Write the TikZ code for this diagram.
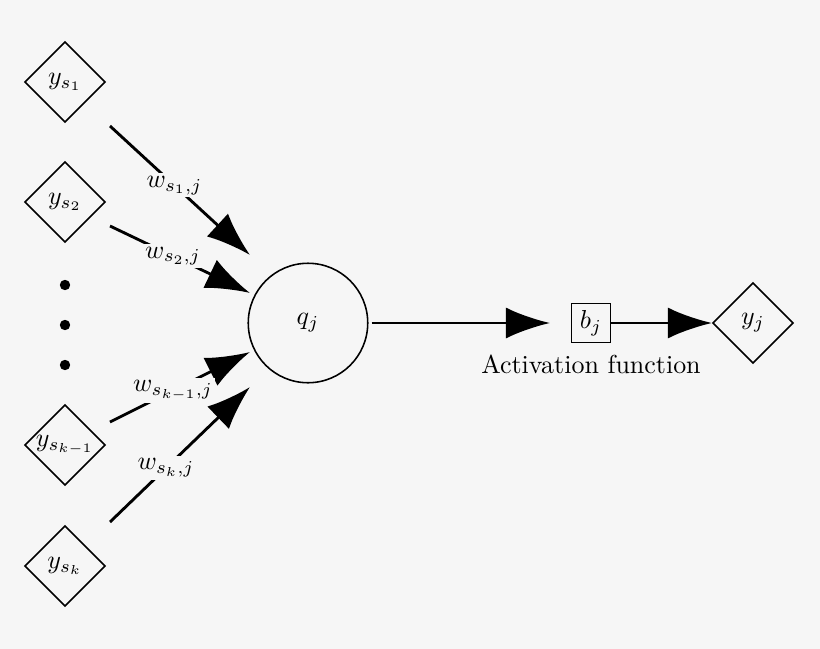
\documentclass[tikz,border=0pt]{standalone}
\usetikzlibrary{shapes.geometric,arrows.meta}
\begin{document}
\begin{tikzpicture}[x=0.385pt,y=-0.385pt,
  dia/.style={draw,line width=0.6pt,shape=diamond,minimum size=31pt,inner sep=0pt},
  conn/.style={line width=1.1pt,-{Latex[length=17pt,width=12pt]}},
  wlab/.style={fill=bgc,inner sep=1pt}]
\definecolor{bgc}{HTML}{F6F6F6}
\fill[bgc] (0,0) rectangle (820,649);
\useasboundingbox (0,0) rectangle (820,649);
\node[dia] (y1) at (65,82) {$y_{s_1}$};
\node[dia] (y2) at (65,202) {$y_{s_2}$};
\node[dia] (y3) at (65,445) {$y_{s_{k-1}}$};
\node[dia] (y4) at (65,566) {$y_{s_k}$};
\foreach \i/\yy in {1/285,2/325,3/365}{\fill (65,\yy) circle (2pt) coordinate (d\i);}
\node[draw,line width=0.6pt,circle,minimum size=46pt] (q) at (308,323) {$q_j$};
\node[draw,line width=0.6pt,minimum size=15pt,inner sep=1pt] (b) at (591,323) {$b_j$};
\node[dia] (yj) at (753,323) {$y_j$};
\node (act) at (591,364) {Activation function};
\coordinate (s1) at (110,126); \coordinate (e1) at (250,255);
\coordinate (s2) at (110,226); \coordinate (e2) at (250,293);
\coordinate (s3) at (110,422); \coordinate (e3) at (250,352);
\coordinate (s4) at (110,522); \coordinate (e4) at (250,387);
\draw[conn] (s1) -- (e1) node[pos=0.46,wlab] (w1) {$w_{s_1,j}$};
\draw[conn] (s2) -- (e2) node[pos=0.45,wlab] (w2) {$w_{s_2,j}$};
\draw[conn] (s3) -- (e3) node[pos=0.45,wlab] (w3) {$w_{s_{k-1},j}$};
\draw[conn] (s4) -- (e4) node[pos=0.4,wlab] (w4) {$w_{s_k,j}$};
\draw[conn] (q.east) ++(3,0) coordinate (qe) (qe) -- (550,323) coordinate (be);
\draw[conn] (b.east) -- (yj.west);
\end{tikzpicture}
\end{document}
